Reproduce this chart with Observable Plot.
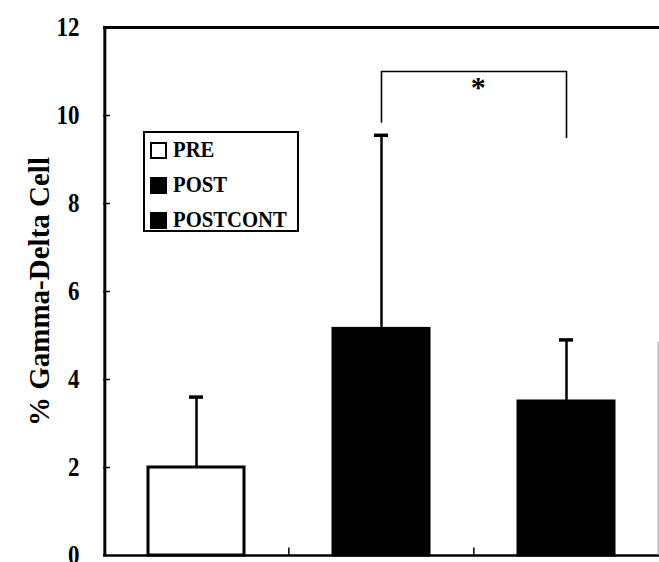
<!DOCTYPE html>
<html>
<head>
<meta charset="utf-8">
<script src="https://cdn.jsdelivr.net/npm/d3@7"></script>
<script src="https://cdn.jsdelivr.net/npm/@observablehq/plot@0.6"></script>
<style>
  html, body { margin: 0; padding: 0; background: #fff; }
  #chart { position: relative; width: 659px; height: 562px; }
  #chart svg { font-family: "Liberation Serif", "DejaVu Serif", serif; font-weight: bold; }
  .legend {
    position: absolute; left: 143px; top: 131px; width: 152px; height: 97px;
    border: 2px solid #000; background: #fff;
    font-family: "Liberation Serif", "DejaVu Serif", serif; font-weight: bold; font-size: 23px;
  }
  .legend .row { position: absolute; left: 5px; height: 24px; display: flex; align-items: center; }
  .legend .row span { display: inline-block; transform: scaleX(0.9); transform-origin: left center; }
  .legend .sw { width: 17px; height: 17px; box-sizing: border-box; border: 2px solid #000; margin-right: 6px; }
</style>
</head>
<body>
<div id="chart"></div>
<script>
// Group labels, means and upper error extents (% gamma-delta cells)
const categories = ["PRE", "POST", "POSTCONT"];
const means = [2.0, 5.15, 3.5];
const errors = [1.6, 4.4, 1.4];
const fills = ["white", "black", "black"];
const yTicks = [0, 2, 4, 6, 8, 10, 12];

// Significance bracket between POST and POSTCONT
const bracketTop = 11.0;
const bracketLegs = [9.85, 9.5];
const bracketLabel = "*";

const data = categories.map((c, i) => ({cat: c, mean: means[i], upper: means[i] + errors[i], fill: fills[i]}));

const width = 659, height = 562;
const marginLeft = 103, marginRight = 0, marginTop = 27, marginBottom = 7;
const step = (width - marginLeft - marginRight) / categories.length;

const bracket = [
  {x: categories[1], y: bracketLegs[0]},
  {x: categories[1], y: bracketTop},
  {x: categories[2], y: bracketTop},
  {x: categories[2], y: bracketLegs[1]}
];

const plot = Plot.plot({
  width, height, marginLeft, marginRight, marginTop, marginBottom,
  x: {type: "band", domain: categories, paddingInner: 0.48, paddingOuter: 0.24, axis: null},
  y: {domain: [0, 12]},
  color: {type: "identity"},
  style: {fontSize: "28px", background: "white"},
  marks: [
    Plot.axisY(yTicks, {tickSize: 0, tickPadding: 24, label: null, fontSize: 28}),
    // inward y tick marks
    Plot.ruleY(yTicks.slice(1, -1), {insetRight: width - marginLeft - marginRight - 7, strokeWidth: 1.5}),
    // frame: left, top and bottom lines
    Plot.ruleX([categories[0]], {dx: -step / 2 + 1, y1: 0, y2: 12, strokeWidth: 3}),
    Plot.ruleY([12], {strokeWidth: 3}),
    Plot.ruleY([0], {strokeWidth: 2.5}),
    // faint right edge
    Plot.ruleX([categories[2]], {dx: step / 2 - 1, y1: 0, y2: 4.85, stroke: "#999", strokeWidth: 1}),
    // category separator ticks on the baseline
    Plot.ruleX(categories.slice(1), {dx: -step / 2, y1: 0, y2: 0.17, strokeWidth: 1.5}),
    // bars
    Plot.barY(data, {x: "cat", y: "mean", fill: "fill", stroke: "black", strokeWidth: 3}),
    // upward error bars with caps
    Plot.ruleX(data, {x: "cat", y1: "mean", y2: "upper", strokeWidth: 2.5}),
    Plot.tickY(data, {x: "cat", y: "upper", strokeWidth: 3.5, insetLeft: 41, insetRight: 41}),
    // significance bracket
    Plot.line(bracket, {x: "x", y: "y", strokeWidth: 1.6}),
    Plot.text([bracketLabel], {x: () => categories[1], y: () => bracketTop, dx: step / 2 + 4, dy: 16, fontSize: 30, fontWeight: "bold"}),
    // y axis title
    Plot.text(["% Gamma-Delta Cell"], {frameAnchor: "left", dx: -64, dy: 0, rotate: -90, textAnchor: "middle", fontSize: 29, fontWeight: "bold", ariaLabel: "y-title"})
  ]
});

// narrow the serif glyphs of the axis texts
plot.querySelectorAll('g[aria-label="y-axis tick label"] text, g[aria-label="y-title"] text').forEach(t => {
  const tr = t.getAttribute("transform") || "";
  t.setAttribute("transform", tr + " scale(0.82,1)");
});

const chart = document.getElementById("chart");
chart.appendChild(plot);

// legend box
const legend = document.createElement("div");
legend.className = "legend";
categories.forEach((c, i) => {
  const row = document.createElement("div");
  row.className = "row";
  row.style.top = (5 + i * 35) + "px";
  const sw = document.createElement("div");
  sw.className = "sw";
  sw.style.background = fills[i];
  const label = document.createElement("span");
  label.textContent = c;
  row.appendChild(sw);
  row.appendChild(label);
  legend.appendChild(row);
});
chart.appendChild(legend);
</script>
</body>
</html>
